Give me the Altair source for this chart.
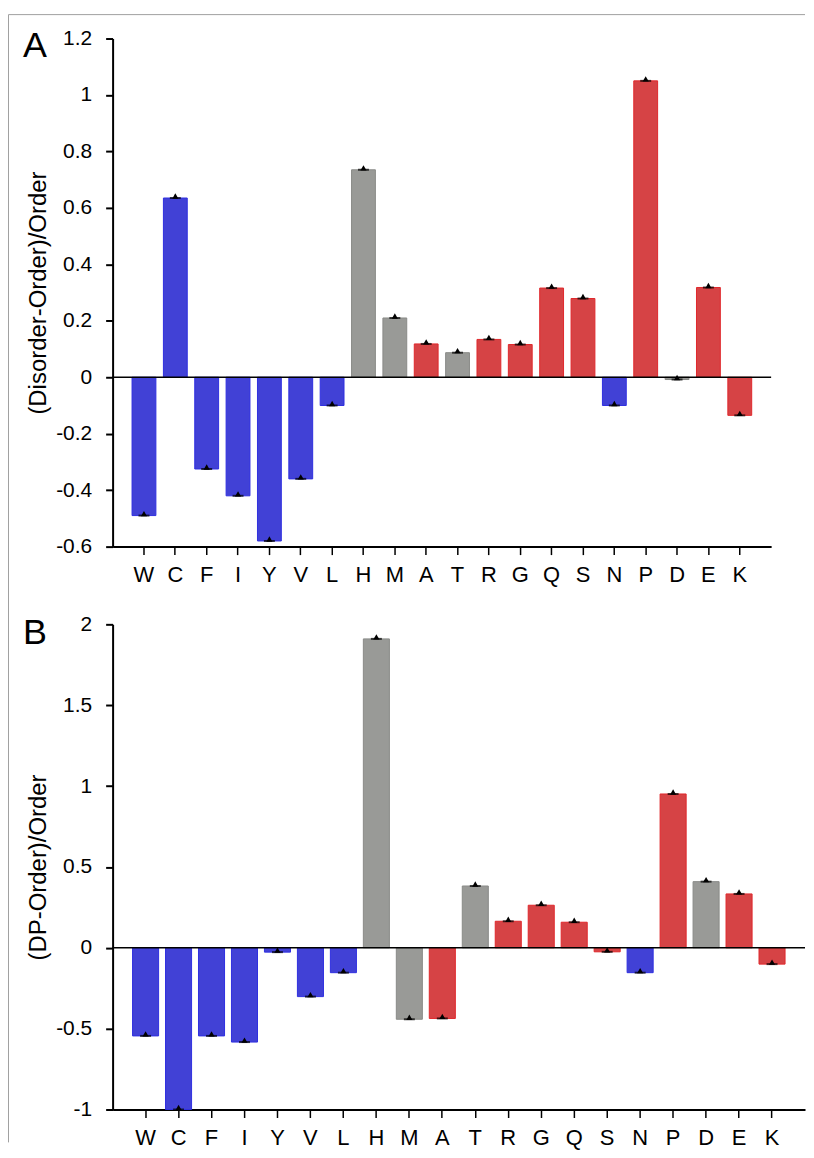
import altair as alt
import pandas as pd

letters = ["W", "C", "F", "I", "Y", "V", "L", "H", "M", "A",
           "T", "R", "G", "Q", "S", "N", "P", "D", "E", "K"]
classes = ["order"] * 7 + ["ambiguous", "ambiguous", "disorder", "ambiguous",
                           "disorder", "disorder", "disorder", "disorder", "order",
                           "disorder", "ambiguous", "disorder", "disorder"]
values_a = [-0.49, 0.635, -0.325, -0.42, -0.58, -0.36, -0.10, 0.735, 0.21, 0.118,
            0.087, 0.134, 0.116, 0.316, 0.279, -0.10, 1.05, -0.008, 0.318, -0.135]
values_b = [-0.545, -1.0, -0.545, -0.583, -0.027, -0.302, -0.154, 1.91, -0.442, -0.437,
            0.382, 0.164, 0.263, 0.158, -0.025, -0.154, 0.951, 0.409, 0.333, -0.101]
ticks_a = [-0.6, -0.4, -0.2, 0, 0.2, 0.4, 0.6, 0.8, 1.0, 1.2]
ticks_b = [-1, -0.5, 0, 0.5, 1, 1.5, 2]

class_domain = ["order", "ambiguous", "disorder"]
fill_range = ["#4141D6", "#999A97", "#D64345"]
stroke_range = ["#2F2FE0", "#8A8B88", "#E0282C"]
FONT = "Liberation Sans"
MINUS = "\u2212"


def panel(values, ticks, ydomain, ytitle, letter, width, height, pin, pout, letter_y,
          frame=False):
    df = pd.DataFrame({"aa": letters, "v": values, "g": classes})
    xenc = alt.X("aa:N", sort=letters,
                 scale=alt.Scale(paddingInner=pin, paddingOuter=pout),
                 axis=alt.Axis(title=None, labelAngle=0, labelFontSize=22,
                               labelPadding=10, tickSize=8, tickWidth=1.5,
                               domainWidth=2, labelFont=FONT))
    yenc = alt.Y("v:Q",
                 scale=alt.Scale(domain=ydomain, nice=False, zero=False),
                 axis=alt.Axis(values=ticks, title=ytitle,
                               labelExpr="replace(format(datum.value, '.1~f'), '" + MINUS + "', '-')",
                               tickSize=7, tickWidth=2, domainWidth=2,
                               labelFontSize=21, labelPadding=14, labelFont=FONT,
                               titleFontSize=24, titleFontWeight="normal",
                               titleFont=FONT, titlePadding=5))
    base = alt.Chart(df)
    bars = base.mark_bar(strokeWidth=1).encode(
        x=xenc, y=yenc,
        fill=alt.Fill("g:N", scale=alt.Scale(domain=class_domain, range=fill_range), legend=None),
        stroke=alt.Stroke("g:N", scale=alt.Scale(domain=class_domain, range=stroke_range), legend=None),
    )
    zero = alt.Chart(pd.DataFrame({"z": [0]})).mark_rule(color="black", strokeWidth=1.5).encode(
        y="z:Q")
    caps = base.mark_tick(color="black", size=11, thickness=2).encode(
        x=alt.X("aa:N", sort=letters), y="v:Q")
    tri = base.mark_point(shape="triangle-up", filled=True, color="black", size=38,
                          opacity=1, yOffset=-2).encode(
        x=alt.X("aa:N", sort=letters), y="v:Q")
    lab = alt.Chart(pd.DataFrame({"t": [letter]})).mark_text(
        align="left", baseline="alphabetic", fontSize=36, font=FONT, color="black").encode(
        text="t:N", x=alt.value(-90), y=alt.value(letter_y))
    layers = [bars, zero, caps, tri, lab]
    if frame:
        fr = pd.DataFrame({"k": [0]})
        vline = alt.Chart(fr).mark_rule(color="#a0a0a0", strokeWidth=1).encode(
            x=alt.value(-104.5), y=alt.value(-24), y2=alt.value(1108))
        hline = alt.Chart(fr).mark_rule(color="#a0a0a0", strokeWidth=1).encode(
            x=alt.value(-104.5), x2=alt.value(695), y=alt.value(-24))
        layers += [vline, hline]
    return alt.layer(*layers).properties(width=width, height=height)


pa = panel(values_a, ticks_a, [-0.6, 1.2], "(Disorder-Order)/Order", "A",
           661, 510, 0.24, 0.62, 19, frame=True)
pb = panel(values_b, ticks_b, [-1, 2], "(DP-Order)/Order", "B",
           695, 487, 0.21, 0.605, 20)

chart = alt.vconcat(pa, pb, spacing=78, bounds="flush").properties(
    padding={"left": 0, "top": 3.5, "right": 0, "bottom": 0}
).configure_view(strokeWidth=0).configure_axis(
    grid=False, domainColor="black", tickColor="black", labelColor="black",
    titleColor="black"
)

chart.save("out.html", embed_options={"renderer": "svg", "actions": False})
